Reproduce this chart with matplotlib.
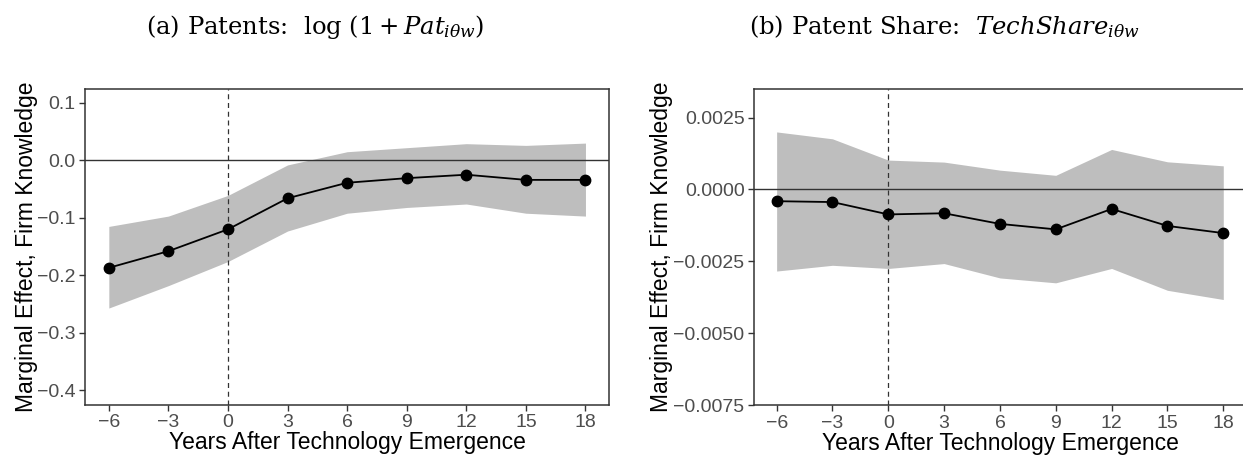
import matplotlib
matplotlib.use("Agg")
from matplotlib import pyplot as plt
from matplotlib.ticker import FuncFormatter

years = [-6, -3, 0, 3, 6, 9, 12, 15, 18]

pat_est = [-0.187, -0.158, -0.120, -0.066, -0.039, -0.031, -0.025, -0.034, -0.034]
pat_lo = [-0.257, -0.218, -0.176, -0.123, -0.092, -0.082, -0.076, -0.092, -0.097]
pat_hi = [-0.115, -0.097, -0.061, -0.008, 0.015, 0.022, 0.029, 0.026, 0.030]

share_est = [-0.00041, -0.00044, -0.00087, -0.00083, -0.00120, -0.00139, -0.00068, -0.00127, -0.00152]
share_lo = [-0.00284, -0.00264, -0.00275, -0.00258, -0.00308, -0.00325, -0.00275, -0.00351, -0.00383]
share_hi = [0.00200, 0.00176, 0.00102, 0.00095, 0.00067, 0.00049, 0.00139, 0.00096, 0.00082]

pat_yticks = [0.1, 0.0, -0.1, -0.2, -0.3, -0.4]
share_yticks = [0.0025, 0.0, -0.0025, -0.005, -0.0075]

plt.rcParams['font.family'] = ['Liberation Sans', 'DejaVu Sans']
plt.rcParams['mathtext.fontset'] = 'custom'
plt.rcParams['mathtext.rm'] = 'DejaVu Serif'
plt.rcParams['mathtext.it'] = 'DejaVu Serif:italic'

W, H = 1243, 459
fig = plt.figure(figsize=(W / 100, H / 100), dpi=100)


def box(l, r, t, b):
    return [l / W, (H - b) / H, (r - l) / W, (b - t) / H]


ax1 = fig.add_axes(box(85, 609.3, 88.5, 404.6))
ax2 = fig.add_axes(box(754.3, 1245.6, 88.8, 405))


def panel(ax, est, lo, hi, yticks, ylim, fmt, ylab_x):
    ax.fill_between(years, lo, hi, color='#BEBEBE', linewidth=0, zorder=1)
    ax.axhline(0, color='#333333', linewidth=1.0, zorder=2)
    ax.axvline(0, color='#333333', linewidth=0.9, linestyle=(0, (4, 3)), zorder=2)
    ax.plot(years, est, color='black', linewidth=1.3, marker='o',
            markersize=7.5, zorder=3)
    ax.set_xlim(-7.2, 19.2)
    ax.set_ylim(*ylim)
    ax.set_xticks(years)
    ax.set_yticks(yticks)
    ax.yaxis.set_major_formatter(FuncFormatter(lambda v, p: (fmt % v).replace('-', '\u2212')))
    ax.xaxis.set_major_formatter(FuncFormatter(lambda v, p: ('%d' % v).replace('-', '\u2212')))
    for s in ax.spines.values():
        s.set_color('#333333')
        s.set_linewidth(1.1)
    ax.tick_params(length=4, width=1, color='#333333', labelcolor='#4D4D4D',
                   labelsize=14, pad=3)
    ax.set_xlabel("Years After Technology Emergence", fontsize=16.5, color='black', labelpad=0)
    ax.set_ylabel("Marginal Effect, Firm Knowledge", fontsize=16.5, color='black')
    ax.yaxis.set_label_coords(ylab_x, 0.5)


panel(ax1, pat_est, pat_lo, pat_hi, pat_yticks, (-0.425, 0.125), '%.1f', -0.09)
panel(ax2, share_est, share_lo, share_hi, share_yticks, (-0.0075, 0.0035), '%.4f', -0.165)
ax2.spines['right'].set_visible(False)

fig.text(315 / W, 1 - 34 / H, r"(a) Patents:  $\log\,(1 + Pat_{i\theta w})$",
         ha='center', va='baseline', fontsize=17.5, family='DejaVu Serif')
fig.text(944 / W, 1 - 34 / H, r"(b) Patent Share:  $TechShare_{i\theta w}$",
         ha='center', va='baseline', fontsize=17.5, family='DejaVu Serif')

fig.savefig('out.png', dpi=100)
